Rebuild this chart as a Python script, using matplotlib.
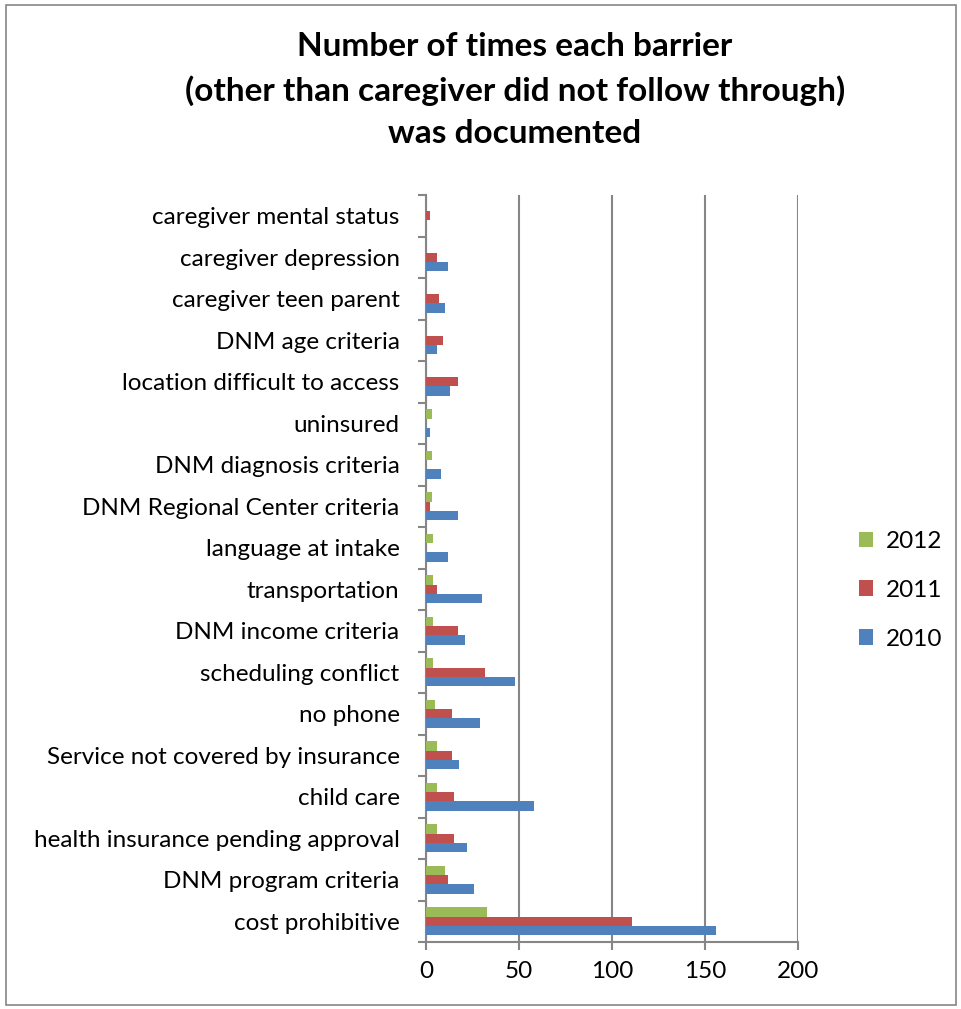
import numpy as np
import matplotlib.pyplot as plt
from matplotlib.patches import Rectangle

plt.rcParams['font.family'] = ['Lato', 'DejaVu Sans']

# categories listed bottom to top, as the chart draws them
categories = ['cost prohibitive', 'DNM program criteria', 'health insurance pending approval',
              'child care', 'Service not covered by insurance', 'no phone',
              'scheduling conflict', 'DNM income criteria', 'transportation',
              'language at intake', 'DNM Regional Center criteria', 'DNM diagnosis criteria',
              'uninsured', 'location difficult to access', 'DNM age criteria',
              'caregiver teen parent', 'caregiver depression', 'caregiver mental status']
y2010 = [156, 26, 22, 58, 18, 29, 48, 21, 30, 12, 17, 8, 2, 13, 6, 10, 12, 0]
y2011 = [111, 12, 15, 15, 14, 14, 32, 17, 6, 0, 2, 0, 0, 17, 9, 7, 6, 2]
y2012 = [33, 10, 6, 6, 6, 5, 4, 4, 4, 4, 3, 3, 3, 0, 0, 0, 0, 0]
years = ['2010', '2011', '2012']
colors = ['#4F81BD', '#C0504D', '#9BBB59']

fig = plt.figure(figsize=(9.62, 10.09), dpi=100)
ax = fig.add_axes([0.4428, 0.0664, 0.3867, 0.7403])

y = np.arange(len(categories))
h = 0.225
for i, (vals, lab, c) in enumerate(zip([y2010, y2011, y2012], years, colors)):
    ax.barh(y + (i - 1) * h, vals, height=h, color=c, label=lab, zorder=3)

ax.set_xlim(0, 200)
ax.set_ylim(-0.5, len(categories) - 0.5)
ax.set_xticks([0, 50, 100, 150, 200])
ax.set_yticks(y)
ax.set_yticklabels(categories, fontsize=17.5)
ax.set_yticks(np.arange(len(categories) + 1) - 0.5, minor=True)
ax.tick_params(axis='y', which='major', length=0, pad=19)
ax.tick_params(axis='y', which='minor', length=6, width=1.5, color='#868686', direction='out')
ax.tick_params(axis='x', labelsize=17.5, length=6, width=1.5, color='#868686', pad=8)
ax.xaxis.grid(True, color='#868686', linewidth=1.5, zorder=0)
for s in ['top', 'right']:
    ax.spines[s].set_visible(False)
for s in ['left', 'bottom']:
    ax.spines[s].set_color('#868686')
    ax.spines[s].set_linewidth(1.5)

handles, labels = ax.get_legend_handles_labels()
fig.legend(handles[::-1], labels[::-1], loc='center left', bbox_to_anchor=(0.87, 0.415),
           frameon=False, fontsize=17.5, handlelength=0.6, handleheight=0.6,
           labelspacing=1.15, handletextpad=0.5)

fig.text(0.535, 0.968, 'Number of times each barrier\n(other than caregiver did not follow through)\nwas documented',
         ha='center', va='top', fontsize=24, fontweight='bold', linespacing=1.55)

fig.patches.append(Rectangle((0.006, 0.004), 0.988, 0.991, transform=fig.transFigure,
                             fill=False, edgecolor='#868686', linewidth=1.2))

fig.savefig('out.png', dpi=100)
